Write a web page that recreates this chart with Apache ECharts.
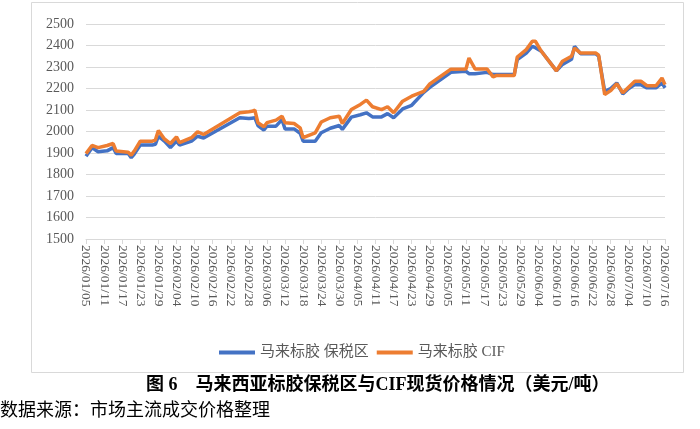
<!DOCTYPE html>
<html>
<head>
<meta charset="utf-8">
<script src="https://cdn.jsdelivr.net/npm/echarts@6/dist/echarts.min.js"></script>
<style>
  html, body { margin: 0; padding: 0; background: #fff; }
  #main { width: 700px; height: 429px; }
</style>
</head>
<body>
<div id="main"></div>
<script>
// 数据：关键日期及对应价格（美元/吨）
var keyDates = ['2026/01/05','2026/01/07','2026/01/09','2026/01/12','2026/01/14','2026/01/15','2026/01/19','2026/01/20','2026/01/21','2026/01/23',
  '2026/01/27','2026/01/28','2026/01/29','2026/01/31','2026/02/02','2026/02/04','2026/02/05','2026/02/09','2026/02/11','2026/02/13',
  '2026/02/25','2026/02/28','2026/03/01','2026/03/02','2026/03/03','2026/03/05','2026/03/06','2026/03/09','2026/03/11','2026/03/12',
  '2026/03/15','2026/03/17','2026/03/18','2026/03/22','2026/03/24','2026/03/27','2026/03/30','2026/03/31','2026/04/03','2026/04/06',
  '2026/04/08','2026/04/10','2026/04/13','2026/04/15','2026/04/17','2026/04/20','2026/04/23','2026/04/27','2026/04/29','2026/05/06',
  '2026/05/11','2026/05/12','2026/05/14','2026/05/18','2026/05/20','2026/05/21','2026/05/27','2026/05/28','2026/05/31','2026/06/02',
  '2026/06/03','2026/06/05','2026/06/10','2026/06/12','2026/06/15','2026/06/16','2026/06/18','2026/06/23','2026/06/24','2026/06/26',
  '2026/06/28','2026/06/30','2026/07/02','2026/07/04','2026/07/06','2026/07/08','2026/07/10','2026/07/13','2026/07/15','2026/07/16'];

var bondedPrice = [1885,1925,1906,1910,1925,1898,1898,1878,1895,1937,
  1937,1940,1978,1955,1925,1955,1937,1955,1978,1970,
  2064,2060,2062,2064,2028,2007,2025,2025,2055,2012,
  2012,1992,1955,1955,1994,2015,2028,2010,2067,2078,
  2087,2068,2068,2083,2064,2105,2122,2182,2205,2275,
  2280,2269,2269,2275,2265,2265,2265,2334,2365,2396,
  2390,2373,2282,2312,2336,2396,2362,2362,2350,2187,
  2200,2226,2175,2200,2218,2218,2203,2203,2226,2203];

var cifPrice = [1897,1935,1925,1935,1944,1909,1904,1890,1909,1955,
  1955,1960,2005,1965,1944,1975,1948,1971,1999,1986,
  2087,2092,2094,2099,2041,2022,2041,2053,2071,2041,
  2037,2017,1971,1994,2044,2064,2071,2037,2102,2126,
  2146,2115,2102,2115,2087,2141,2164,2187,2221,2290,
  2291,2342,2291,2291,2254,2260,2260,2346,2381,2420,
  2420,2373,2282,2327,2350,2388,2365,2365,2355,2172,
  2190,2222,2180,2207,2234,2234,2213,2213,2249,2218];

var yTicks = [1500,1600,1700,1800,1900,2000,2100,2200,2300,2400,2500];

// 横轴：逐日日期
var allDates = [];
var start = Date.UTC(2026, 0, 5);
for (var i = 0; i < 193; i++) {
    var d = new Date(start + i * 86400000);
    var m = d.getUTCMonth() + 1, dd = d.getUTCDate();
    allDates.push(d.getUTCFullYear() + '/' + (m < 10 ? '0' + m : m) + '/' + (dd < 10 ? '0' + dd : dd));
}

function toSeries(vals) {
    var out = [];
    for (var i = 0; i < keyDates.length; i++) {
        out.push([allDates.indexOf(keyDates[i]), vals[i]]);
    }
    return out;
}

var serif = '"Liberation Serif","Noto Sans CJK SC",serif';
var chart = echarts.init(document.getElementById('main'));

var option = {
    animation: false,
    backgroundColor: '#fff',
    grid: { left: 86, right: 35, top: 24, bottom: 190 },
    legend: {
        top: 340,
        left: 214,
        icon: 'rect',
        itemWidth: 36,
        itemHeight: 4,
        itemGap: 8,
        textStyle: { fontFamily: serif, fontSize: 15, color: '#595959' },
        data: ['马来标胶 保税区', '马来标胶 CIF']
    },
    xAxis: {
        type: 'category',
        boundaryGap: false,
        data: allDates,
        axisLine: { lineStyle: { color: '#d9d9d9' } },
        axisTick: { show: true, interval: 5, length: 5, lineStyle: { color: '#d9d9d9' } },
        axisLabel: { interval: 5, rotate: -90, margin: 6, fontFamily: serif, fontSize: 13.5, color: '#595959' },
        splitLine: { show: false }
    },
    yAxis: {
        type: 'value',
        min: yTicks[0],
        max: yTicks[yTicks.length - 1],
        interval: 100,
        axisLine: { show: false },
        axisTick: { show: false },
        axisLabel: {
            margin: 12, fontFamily: serif, fontSize: 14, color: '#595959',
            formatter: function (v) { return String(v); }
        },
        splitLine: { lineStyle: { color: '#d9d9d9', width: 1 } }
    },
    series: [{
        name: '马来标胶 保税区',
        type: 'line',
        symbol: 'none',
        data: toSeries(bondedPrice),
        lineStyle: { color: '#4472c4', width: 3.5 },
        itemStyle: { color: '#4472c4' }
    }, {
        name: '马来标胶 CIF',
        type: 'line',
        symbol: 'none',
        data: toSeries(cifPrice),
        lineStyle: { color: '#ed7d31', width: 3.5 },
        itemStyle: { color: '#ed7d31' }
    }],
    graphic: [{
        type: 'rect',
        shape: { x: 31.5, y: 2.5, width: 652, height: 370 },
        style: { fill: 'none', stroke: '#d9d9d9', lineWidth: 1 },
        silent: true
    }, {
        type: 'text',
        left: 146,
        top: 376,
        style: { text: '图 6　马来西亚标胶保税区与CIF现货价格情况（美元/吨）', font: 'bold 18px ' + serif, fill: '#000' }
    }, {
        type: 'text',
        left: 0,
        top: 400,
        style: { text: '数据来源：市场主流成交价格整理', font: '18px "Noto Sans CJK SC",sans-serif', fill: '#000' }
    }]
};
chart.setOption(option);
</script>
</body>
</html>
